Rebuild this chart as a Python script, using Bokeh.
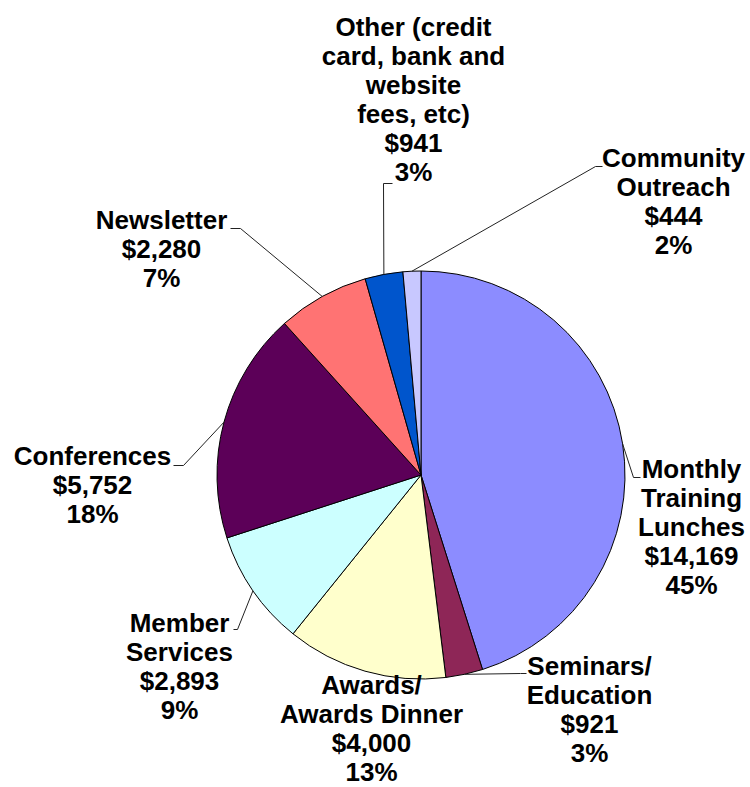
import math
from bokeh.plotting import figure
from bokeh.models import Range1d, ColumnDataSource
from bokeh.core.properties import value
from bokeh.embed import file_html
from bokeh.resources import INLINE

# ---- data ----
categories = ["Monthly Training Lunches", "Seminars/ Education", "Awards/ Awards Dinner",
              "Member Services", "Conferences", "Newsletter",
              "Other (credit card, bank and website fees, etc)", "Community Outreach"]
label_lines = [["Monthly", "Training", "Lunches"],
               ["Seminars/", "Education"],
               ["Awards/", "Awards Dinner"],
               ["Member", "Services"],
               ["Conferences"],
               ["Newsletter"],
               ["Other (credit", "card, bank and", "website", "fees, etc)"],
               ["Community", "Outreach"]]
amounts = [14169, 921, 4000, 2893, 5752, 2280, 941, 444]
percents = [45, 3, 13, 9, 18, 7, 3, 2]
colors = ["#8C8CFF", "#8E2657", "#FFFFCC", "#CCFFFF", "#5C0058", "#FF7373", "#0055CC", "#C8C8FF"]

# ---- layout (page pixel coordinates) ----
W, H = 750, 787
CX, CY, R = 420.5, 474.5, 204
label_pos = [(691, 468), (589, 665), (371, 684), (179, 622), (92, 455), (161, 219), (413, 26), (673, 157)]
leader_pts = [[(633, 477), (640, 477)],
              [(520, 673), (526, 673)],
              None,
              [(237, 629), (233, 629)],
              [(183, 465), (173, 465)],
              [(240, 228), (230, 228)],
              [(383, 183), (392, 183)],
              [(595, 166), (602, 166)]]
LINE_STEP = 29
FONT = value("Liberation Sans")


def py(yimg):
    return H - yimg


p = figure(width=W, height=H, output_backend="svg", toolbar_location=None,
           x_range=Range1d(0, W), y_range=Range1d(0, H),
           x_axis_type=None, y_axis_type=None, min_border=0)
p.outline_line_color = None
p.xgrid.visible = False
p.ygrid.visible = False
p.background_fill_color = "white"
p.border_fill_color = "white"

total = sum(amounts)
starts, ends, mids = [], [], []
cum = 0
for a in amounts:
    s = math.pi / 2 - 2 * math.pi * cum / total
    cum += a
    e = math.pi / 2 - 2 * math.pi * cum / total
    starts.append(s)
    ends.append(e)
    mids.append((s + e) / 2)

src = ColumnDataSource(dict(x=[CX] * len(amounts), y=[py(CY)] * len(amounts),
                            start=starts, end=ends, color=colors, name=categories))
p.wedge(x="x", y="y", radius=R, start_angle="start", end_angle="end", direction="clock",
        fill_color="color", line_color="black", line_width=1, source=src)

# leader lines
for i, pts in enumerate(leader_pts):
    if pts is None:
        continue
    sx = CX + R * math.cos(mids[i])
    sy = py(CY) + R * math.sin(mids[i])
    xs = [sx] + [q[0] for q in pts]
    ys = [sy] + [py(q[1]) for q in pts]
    p.line(xs, ys, line_color="#222222", line_width=1)

# labels
tx, ty, tt = [], [], []
for i in range(len(amounts)):
    lines = label_lines[i] + ["$" + f"{amounts[i]:,}", f"{percents[i]}%"]
    x0, y0 = label_pos[i]
    for j, t in enumerate(lines):
        tx.append(x0)
        ty.append(py(y0 + j * LINE_STEP))
        tt.append(t)
p.text(x=tx, y=ty, text=tt, text_font=FONT, text_font_style="bold", text_font_size="26px",
       text_align="center", text_baseline="middle", text_color="black")

open("out.html", "w").write(file_html(p, INLINE))
